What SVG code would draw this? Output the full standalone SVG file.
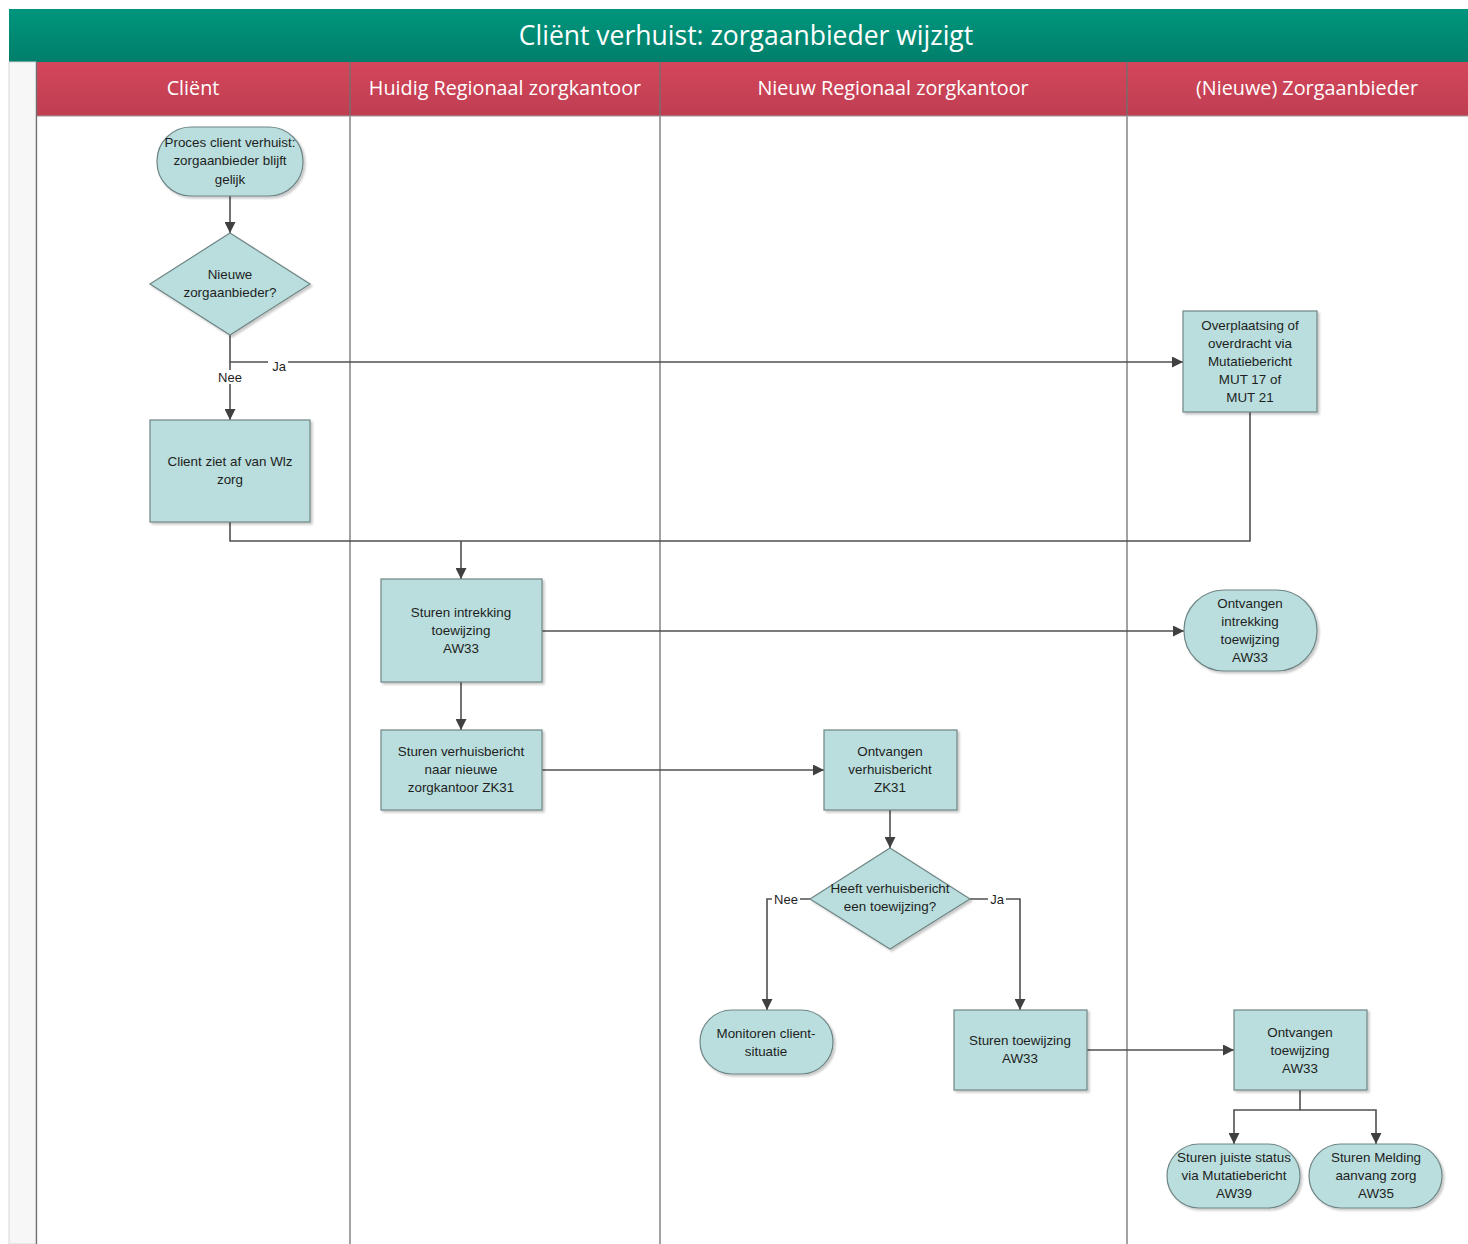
<svg xmlns="http://www.w3.org/2000/svg" width="1468" height="1244" viewBox="0 0 1468 1244">
<defs>
<linearGradient id="gT" x1="0" y1="0" x2="0" y2="1"><stop offset="0" stop-color="#00967d"/><stop offset="1" stop-color="#007e6b"/></linearGradient>
<linearGradient id="gH" x1="0" y1="0" x2="0" y2="1"><stop offset="0" stop-color="#d4465a"/><stop offset="1" stop-color="#bf3e52"/></linearGradient>
<marker id="ar" viewBox="0 0 10 10" refX="10" refY="5" markerWidth="11" markerHeight="11" markerUnits="userSpaceOnUse" orient="auto"><path d="M0,0 L10,5 L0,10 z" fill="#404040"/></marker>
<filter id="sh" x="-10%" y="-10%" width="130%" height="130%"><feDropShadow dx="2" dy="2" stdDeviation="1.2" flood-color="#000" flood-opacity="0.22"/></filter>
</defs>
<style>
.n{fill:#b9dedd;stroke:#6f8585;stroke-width:1.2;filter:url(#sh)}
.t{font-family:"Liberation Sans",Arial,sans-serif;font-size:13.4px;fill:#1e1e1e;text-anchor:middle}
.h{font-family:"Open Sans","Liberation Sans",sans-serif;font-size:19.8px;fill:#ffffff;text-anchor:middle}
.c{fill:none;stroke:#505050;stroke-width:1.6}
.a{marker-end:url(#ar)}
.lane{stroke:#707070;stroke-width:1.3}
.lb{font-family:"Liberation Sans",Arial,sans-serif;font-size:13px;fill:#1e1e1e;text-anchor:middle}
</style>
<rect width="1468" height="1244" fill="#ffffff"/>
<g id="title">
<rect x="9" y="9" width="1459" height="53" fill="url(#gT)"/>
<text x="746" y="45" font-family="'Open Sans','Liberation Sans',sans-serif" font-size="26.5" fill="#ffffff" text-anchor="middle">Cliënt verhuist: zorgaanbieder wijzigt</text>
</g>
<g id="lanes">
<rect x="9" y="62" width="27" height="1182" fill="#f7f7f7" stroke="#d8d8d8" stroke-width="1"/>
<rect x="37" y="62" width="1431" height="54" fill="url(#gH)"/>
<line x1="36.5" y1="62" x2="36.5" y2="1244" class="lane"/>
<line x1="350" y1="62" x2="350" y2="1244" class="lane"/>
<line x1="660" y1="62" x2="660" y2="1244" class="lane"/>
<line x1="1127" y1="62" x2="1127" y2="1244" class="lane"/>
<line x1="37" y1="116" x2="1468" y2="116" stroke="#9a9a9a" stroke-width="1"/>
<text class="h" x="193" y="95">Cliënt</text>
<text class="h" x="505" y="95">Huidig Regionaal zorgkantoor</text>
<text class="h" x="893" y="95">Nieuw Regionaal zorgkantoor</text>
<text class="h" x="1307" y="95">(Nieuwe) Zorgaanbieder</text>
</g>
<g id="connectors">
<path class="c a" d="M230,196 V233"/>
<path class="c a" d="M230,335 V362 H1183"/>
<path class="c a" d="M230,362 V420"/>
<path class="c" d="M230,522 V541 H1250 V412"/>
<path class="c a" d="M461,541 V579"/>
<path class="c a" d="M542,631 H1184"/>
<path class="c a" d="M461,682 V730"/>
<path class="c a" d="M542,770 H824"/>
<path class="c a" d="M890,810 V848"/>
<path class="c a" d="M810,899 H767 V1010"/>
<path class="c a" d="M970,899 H1020 V1010"/>
<path class="c a" d="M1087,1050 H1234"/>
<path class="c a" d="M1300,1090 V1110 H1234 V1144"/>
<path class="c a" d="M1300,1110 H1376 V1144"/>
<rect x="268" y="360" width="20" height="14" fill="#ffffff"/>
<text class="lb" x="279" y="371">Ja</text>
<rect x="214" y="370" width="32" height="14" fill="#ffffff"/>
<text class="lb" x="230" y="382">Nee</text>
<rect x="772" y="893" width="28" height="14" fill="#ffffff"/>
<text class="lb" x="786" y="904">Nee</text>
<rect x="988" y="893" width="18" height="14" fill="#ffffff"/>
<text class="lb" x="997" y="904">Ja</text>
</g>
<g id="n1"><rect class="n" x="157" y="127" width="146" height="69" rx="34" ry="34"/>
<text class="t" x="230" y="147">Proces client verhuist:</text><text class="t" x="230" y="165">zorgaanbieder blijft</text><text class="t" x="230" y="184">gelijk</text></g>
<g id="n2"><polygon class="n" points="230,233 310,284 230,335 150,284"/>
<text class="t" x="230" y="279">Nieuwe</text><text class="t" x="230" y="297">zorgaanbieder?</text></g>
<g id="n3"><rect class="n" x="150" y="420" width="160" height="102"/>
<text class="t" x="230" y="466">Client ziet af van Wlz</text><text class="t" x="230" y="484">zorg</text></g>
<g id="n4"><rect class="n" x="1183" y="311" width="134" height="101"/>
<text class="t" x="1250" y="330">Overplaatsing of</text><text class="t" x="1250" y="348">overdracht via</text><text class="t" x="1250" y="366">Mutatiebericht</text><text class="t" x="1250" y="384">MUT 17 of</text><text class="t" x="1250" y="402">MUT 21</text></g>
<g id="n5"><rect class="n" x="381" y="579" width="161" height="103"/>
<text class="t" x="461" y="617">Sturen intrekking</text><text class="t" x="461" y="635">toewijzing</text><text class="t" x="461" y="653">AW33</text></g>
<g id="n6"><rect class="n" x="1184" y="590" width="133" height="81" rx="40" ry="40"/>
<text class="t" x="1250" y="608">Ontvangen</text><text class="t" x="1250" y="626">intrekking</text><text class="t" x="1250" y="644">toewijzing</text><text class="t" x="1250" y="662">AW33</text></g>
<g id="n7"><rect class="n" x="381" y="730" width="161" height="80"/>
<text class="t" x="461" y="756">Sturen verhuisbericht</text><text class="t" x="461" y="774">naar nieuwe</text><text class="t" x="461" y="792">zorgkantoor ZK31</text></g>
<g id="n8"><rect class="n" x="824" y="730" width="133" height="80"/>
<text class="t" x="890" y="756">Ontvangen</text><text class="t" x="890" y="774">verhuisbericht</text><text class="t" x="890" y="792">ZK31</text></g>
<g id="n9"><polygon class="n" points="890,848 970,899 890,949 810,899"/>
<text class="t" x="890" y="893">Heeft verhuisbericht</text><text class="t" x="890" y="911">een toewijzing?</text></g>
<g id="n10"><rect class="n" x="700" y="1010" width="133" height="64" rx="32" ry="32"/>
<text class="t" x="766" y="1038">Monitoren client-</text><text class="t" x="766" y="1056">situatie</text></g>
<g id="n11"><rect class="n" x="954" y="1010" width="133" height="80"/>
<text class="t" x="1020" y="1045">Sturen toewijzing</text><text class="t" x="1020" y="1063">AW33</text></g>
<g id="n12"><rect class="n" x="1234" y="1010" width="133" height="80"/>
<text class="t" x="1300" y="1037">Ontvangen</text><text class="t" x="1300" y="1055">toewijzing</text><text class="t" x="1300" y="1073">AW33</text></g>
<g id="n13"><rect class="n" x="1167" y="1144" width="133" height="64" rx="32" ry="32"/>
<text class="t" x="1234" y="1162">Sturen juiste status</text><text class="t" x="1234" y="1180">via Mutatiebericht</text><text class="t" x="1234" y="1198">AW39</text></g>
<g id="n14"><rect class="n" x="1309" y="1144" width="133" height="64" rx="32" ry="32"/>
<text class="t" x="1376" y="1162">Sturen Melding</text><text class="t" x="1376" y="1180">aanvang zorg</text><text class="t" x="1376" y="1198">AW35</text></g>
</svg>
